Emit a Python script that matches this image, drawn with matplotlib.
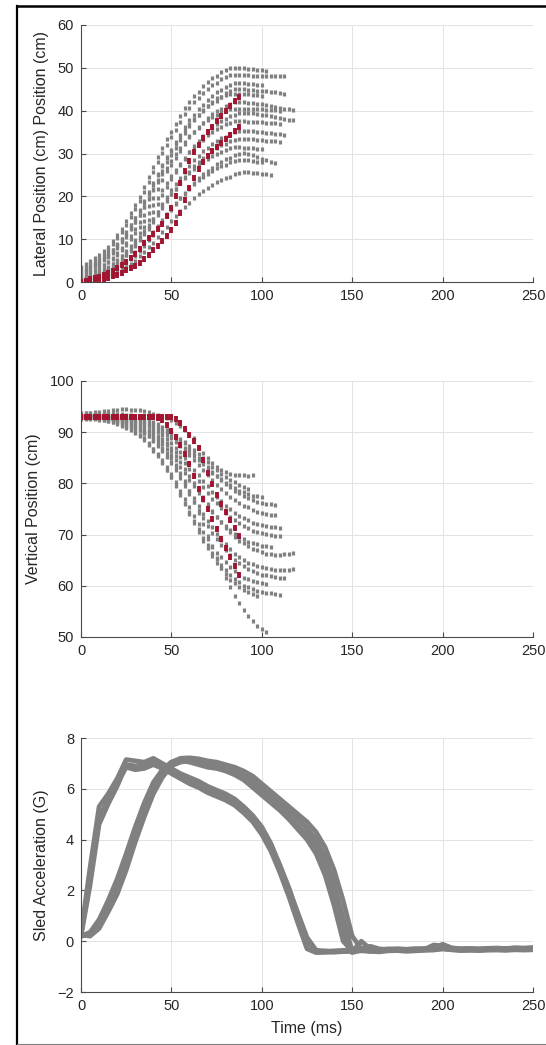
import matplotlib
matplotlib.use("Agg")
import matplotlib.pyplot as plt
from matplotlib.lines import Line2D

plt.rcParams['font.family'] = ['Liberation Sans', 'DejaVu Sans']

# sample times (ms) of the tracked points
t_dots = [0, 2.5, 5, 7.5, 10, 12.5, 15, 17.5, 20, 22.5, 25, 27.5, 30, 32.5, 35, 37.5,
          40, 42.5, 45, 47.5, 50, 52.5, 55, 57.5, 60, 62.5, 65, 67.5, 70, 72.5, 75, 77.5,
          80, 82.5, 85, 87.5, 90, 92.5, 95, 97.5, 100, 102.5, 105, 107.5, 110, 112.5, 115, 117.5]

# lateral position (cm), grey trials
lat_gray = [
    [3.5, 4.2, 4.9, 5.6, 6.3, 7.2, 8.2, 9.5, 10.9, 12.3, 14.2, 16.1, 17.9, 19.8, 22.1, 24.4,
     26.8, 29.1, 31.4, 33.3, 35.1, 37.0, 38.8, 40.7, 42.1, 43.5, 44.4, 45.8, 46.7, 47.7, 48.1,
     49.1, 49.5, 50.0, 50.0, 50.0, 49.9, 49.8, 49.7, 49.6, 49.4, 49.2],
    [3.0, 3.7, 4.4, 5.0, 5.7, 6.6, 7.5, 8.9, 10.3, 11.6, 13.4, 15.2, 17.0, 18.9, 21.1, 23.4,
     25.7, 27.9, 30.2, 32.0, 33.8, 35.6, 37.4, 39.2, 40.6, 42.0, 42.9, 44.2, 45.1, 46.0, 46.5,
     47.4, 47.8, 48.3, 48.3, 48.3, 48.3, 48.3, 48.2, 48.2, 48.2, 48.1, 48.1, 48.0, 48.0, 48.0],
    [3.2, 3.3, 3.9, 4.5, 5.2, 5.8, 6.7, 7.5, 8.8, 10.1, 11.4, 13.2, 14.9, 16.6, 18.4, 20.5,
     22.7, 24.9, 27.0, 29.2, 30.9, 32.6, 34.4, 36.1, 37.8, 39.1, 40.4, 41.3, 42.6, 43.5, 44.3,
     44.8, 45.6, 46.1, 46.5, 46.5, 46.4, 46.3, 46.2, 46.1, 46.0],
    [2.5, 2.6, 3.1, 3.8, 4.4, 5.1, 5.9, 6.8, 8.0, 9.3, 10.6, 12.3, 14.0, 15.7, 17.4, 19.5,
     21.6, 23.8, 25.9, 28.0, 29.7, 31.4, 33.1, 34.8, 36.5, 37.8, 39.1, 39.9, 41.2, 42.0, 42.9,
     43.3, 44.2, 44.6, 45.0, 45.0, 45.0, 44.9, 44.8, 44.7, 44.6, 44.5, 44.4, 44.3, 44.1, 44.0],
    [2.0, 2.6, 3.3, 3.9, 4.5, 5.4, 6.2, 7.5, 8.7, 10.0, 11.7, 13.3, 15.0, 16.7, 18.8, 20.9,
     23.0, 25.1, 27.2, 28.9, 30.6, 32.2, 33.9, 35.6, 36.9, 38.1, 39.0, 40.2, 41.1, 41.9, 42.3,
     43.2, 43.6, 44.0, 44.0, 44.0, 43.9, 43.8, 43.7, 43.6, 43.5],
    [1.5, 1.6, 2.1, 2.7, 3.3, 3.9, 4.7, 5.6, 6.8, 8.0, 9.2, 10.8, 12.4, 14.1, 15.7, 17.7,
     19.7, 21.8, 23.8, 25.8, 27.4, 29.0, 30.7, 32.3, 33.9, 35.1, 36.3, 37.1, 38.4, 39.2, 40.0,
     40.4, 41.2, 41.6, 42.0, 42.0, 42.0, 41.9, 41.8, 41.6, 41.5, 41.3, 41.1, 40.9, 40.7, 40.5,
     40.3, 40.2],
    [2.2, 2.8, 3.4, 3.9, 4.5, 5.3, 6.0, 7.2, 8.3, 9.5, 11.0, 12.5, 14.1, 15.6, 17.5, 19.4,
     21.4, 23.3, 25.2, 26.7, 28.2, 29.8, 31.3, 32.8, 34.0, 35.1, 35.9, 37.1, 37.8, 38.6, 39.0,
     39.7, 40.1, 40.5, 40.5, 40.5, 40.5, 40.4, 40.4, 40.3, 40.3, 40.2, 40.1, 40.1, 40.0],
    [1.0, 1.0, 1.1, 1.6, 2.2, 2.7, 3.3, 4.1, 4.9, 6.0, 7.2, 8.3, 9.9, 11.4, 12.9, 14.5,
     16.4, 18.3, 20.3, 22.2, 24.1, 25.6, 27.2, 28.7, 30.3, 31.8, 33.0, 34.1, 34.9, 36.0, 36.8,
     37.6, 38.0, 38.7, 39.1, 39.5, 39.5, 39.5, 39.4, 39.3, 39.1, 38.9, 38.7, 38.5, 38.3, 38.1,
     37.9, 37.8],
    [1.8, 1.9, 2.3, 2.9, 3.4, 3.9, 4.7, 5.4, 6.4, 7.5, 8.6, 10.0, 11.4, 12.9, 14.3, 16.1,
     17.9, 19.7, 21.4, 23.2, 24.7, 26.1, 27.5, 28.9, 30.4, 31.4, 32.5, 33.2, 34.3, 35.0, 35.7,
     36.1, 36.8, 37.1, 37.5, 37.5, 37.5, 37.4, 37.4, 37.3, 37.3, 37.2, 37.1, 37.1, 37.0],
    [0.8, 0.8, 0.9, 1.3, 1.8, 2.4, 2.9, 3.6, 4.3, 5.3, 6.3, 7.4, 8.7, 10.1, 11.5, 12.9,
     14.6, 16.3, 18.1, 19.8, 21.5, 22.9, 24.3, 25.6, 27.0, 28.4, 29.4, 30.5, 31.2, 32.2, 32.9,
     33.6, 33.9, 34.6, 35.0, 35.3, 35.3, 35.3, 35.2, 35.1, 35.0, 34.9, 34.8, 34.6, 34.5, 34.3],
    [1.0, 1.0, 1.1, 1.5, 2.0, 2.5, 3.0, 3.6, 4.3, 5.2, 6.2, 7.2, 8.5, 9.8, 11.1, 12.4,
     14.0, 15.6, 17.3, 18.9, 20.5, 21.8, 23.1, 24.4, 25.7, 27.0, 28.0, 29.0, 29.6, 30.6, 31.2,
     31.9, 32.2, 32.9, 33.2, 33.5, 33.5, 33.4, 33.3, 33.2, 33.1, 33.0, 32.9, 32.9, 32.8],
    [1.2, 1.3, 1.7, 2.1, 2.6, 3.0, 3.6, 4.2, 5.1, 6.1, 7.0, 8.2, 9.4, 10.6, 11.8, 13.3,
     14.8, 16.4, 17.9, 19.4, 20.6, 21.8, 23.0, 24.2, 25.4, 26.4, 27.3, 27.9, 28.8, 29.4, 30.0,
     30.3, 30.9, 31.2, 31.5, 31.5, 31.4, 31.3, 31.2, 31.1, 31.0],
    [0.5, 0.5, 0.6, 0.7, 0.95, 1.4, 1.8, 2.3, 2.9, 3.5, 4.4, 5.3, 6.1, 7.3, 8.5, 9.7,
     10.9, 12.4, 13.9, 15.4, 16.8, 18.3, 19.5, 20.7, 21.9, 23.1, 24.3, 25.2, 26.0, 26.6, 27.5,
     28.1, 28.7, 29.0, 29.6, 29.9, 30.2, 30.0, 29.6, 29.2, 28.8, 28.4, 28.0, 27.7],
    [0.4, 0.4, 0.5, 0.8, 1.2, 1.7, 2.1, 2.6, 3.2, 4.1, 4.9, 5.7, 6.9, 8.0, 9.1, 10.2,
     11.6, 13.0, 14.5, 15.9, 17.3, 18.4, 19.5, 20.6, 21.8, 22.9, 23.7, 24.6, 25.1, 26.0, 26.5,
     27.1, 27.4, 27.9, 28.2, 28.5, 28.5, 28.4, 28.3, 28.1, 28.0],
    [0.2, 0.2, 0.3, 0.3, 0.6, 1.0, 1.3, 1.7, 2.2, 2.7, 3.5, 4.3, 5.0, 6.0, 7.1, 8.1,
     9.1, 10.4, 11.6, 12.9, 14.2, 15.4, 16.5, 17.5, 18.5, 19.5, 20.5, 21.3, 22.0, 22.6, 23.3,
     23.8, 24.3, 24.6, 25.1, 25.4, 25.6, 25.6, 25.5, 25.4, 25.2, 25.1, 24.9],
]

# lateral position (cm), highlighted trials
lat_red = [
    [0.0, 0.3, 0.6, 0.9, 1.2, 1.6, 2.1, 2.6, 3.2, 3.9, 4.7, 5.6, 6.6, 7.8, 9.0, 10.2, 11.3,
     12.4, 13.6, 15.3, 17.3, 20.0, 23.2, 26.0, 28.3, 30.3, 32.0, 33.6, 35.0, 36.3, 37.6, 38.8,
     40.0, 41.1, 42.2, 43.2],
    [0.0, 0.1, 0.2, 0.3, 0.4, 0.6, 0.9, 1.3, 1.7, 2.2, 2.7, 3.2, 3.8, 4.5, 5.3, 6.3, 7.4,
     8.5, 9.6, 10.8, 12.1, 13.8, 16.0, 19.2, 22.0, 24.3, 26.4, 28.0, 29.4, 30.6, 31.6, 32.5,
     33.4, 34.3, 35.2, 36.1],
]

# vertical position (cm), grey trials
vert_gray = [
    [93.6, 93.7, 93.8, 93.9, 94.0, 94.1, 94.2, 94.3, 94.4, 94.5, 94.5, 94.4, 94.4, 94.3, 94.1,
     93.9, 93.6, 93.3, 93.0, 92.7, 92.3, 91.8, 91.2, 90.5, 89.7, 88.8, 87.2, 86.0, 85.0, 84.0,
     83.3, 82.7, 82.2, 81.9, 81.7, 81.6, 81.6, 81.5, 81.6],
    [93.3, 93.3, 93.3, 93.3, 93.3, 93.3, 93.3, 93.2, 93.1, 93.1, 93.0, 92.8, 92.7, 92.5, 92.3,
     92.0, 91.7, 91.4, 90.9, 90.5, 90.0, 89.3, 88.7, 88.1, 87.3, 86.5, 85.7, 84.9, 84.1, 83.3,
     82.6, 81.9, 81.3, 80.7, 80.2, 79.7, 79.2, 78.9],
    [93.3, 93.3, 93.3, 93.3, 93.3, 93.3, 93.2, 93.1, 93.1, 93.0, 92.8, 92.6, 92.5, 92.2, 92.0,
     91.7, 91.3, 90.8, 90.3, 89.8, 89.2, 88.5, 87.9, 87.0, 86.2, 85.4, 84.6, 83.7, 82.9, 82.1,
     81.4, 80.8, 80.1, 79.6, 79.1, 78.6, 78.3, 78.0, 77.6, 77.5, 77.3],
    [93.8, 93.8, 93.8, 93.8, 93.8, 93.8, 93.8, 93.7, 93.6, 93.5, 93.4, 93.3, 93.1, 92.9, 92.6,
     92.3, 92.0, 91.6, 91.1, 90.5, 90.0, 89.2, 88.5, 87.8, 86.8, 85.9, 85.0, 84.1, 83.2, 82.3,
     81.4, 80.6, 79.9, 79.2, 78.6, 78.1, 77.5, 77.1, 76.8, 76.4, 76.2, 76.0, 75.9, 75.8],
    [93.0, 93.0, 93.0, 93.0, 93.0, 93.0, 93.0, 92.9, 92.8, 92.7, 92.6, 92.4, 92.2, 92.0, 91.7,
     91.4, 91.1, 90.7, 90.1, 89.5, 88.9, 88.1, 87.3, 86.6, 85.6, 84.6, 83.6, 82.7, 81.7, 80.7,
     79.7, 79.0, 78.2, 77.4, 76.8, 76.2, 75.6, 75.3, 74.9, 74.5, 74.3, 74.1, 73.9, 73.8],
    [93.4, 93.4, 93.4, 93.4, 93.4, 93.4, 93.3, 93.2, 93.1, 93.0, 92.7, 92.5, 92.3, 92.0, 91.6,
     91.2, 90.7, 90.1, 89.4, 88.7, 87.9, 87.0, 86.1, 85.0, 83.9, 82.7, 81.6, 80.5, 79.4, 78.3,
     77.4, 76.5, 75.6, 75.0, 74.3, 73.6, 73.2, 72.8, 72.3, 72.1, 71.9, 71.6, 71.5, 71.4, 71.3],
    [92.8, 92.8, 92.8, 92.8, 92.8, 92.8, 92.7, 92.6, 92.5, 92.3, 92.1, 91.9, 91.6, 91.3, 90.9,
     90.5, 90.0, 89.3, 88.6, 87.9, 87.0, 86.1, 85.1, 84.0, 82.8, 81.7, 80.5, 79.3, 78.2, 77.0,
     76.1, 75.2, 74.2, 73.5, 72.8, 72.2, 71.7, 71.2, 70.8, 70.5, 70.3, 70.1, 69.9, 69.8, 69.7],
    [93.1, 93.1, 93.1, 93.1, 93.1, 93.0, 92.8, 92.7, 92.6, 92.3, 92.1, 91.8, 91.4, 91.0, 90.5,
     90.0, 89.2, 88.5, 87.7, 86.7, 85.6, 84.6, 83.3, 82.0, 80.7, 79.4, 78.1, 76.8, 75.6, 74.5,
     73.5, 72.5, 71.7, 70.9, 70.1, 69.6, 69.1, 68.6, 68.3, 68.1, 67.8, 67.7, 67.6],
    [93.2, 93.2, 93.2, 93.2, 93.2, 93.2, 93.1, 92.9, 92.8, 92.7, 92.4, 92.1, 91.8, 91.4, 91.0,
     90.5, 89.9, 89.1, 88.3, 87.5, 86.4, 85.3, 84.2, 82.8, 81.4, 80.0, 78.7, 77.3, 75.9, 74.6,
     73.5, 72.4, 71.3, 70.5, 69.6, 68.8, 68.3, 67.7, 67.2, 66.9, 66.6, 66.3, 66.2, 66.1, 66.1,
     66.2, 66.3, 66.5],
    [92.9, 92.9, 92.9, 92.9, 92.9, 92.8, 92.6, 92.5, 92.3, 92.0, 91.7, 91.4, 91.0, 90.5, 89.9,
     89.3, 88.4, 87.5, 86.6, 85.4, 84.2, 83.0, 81.5, 80.0, 78.5, 77.1, 75.6, 74.1, 72.6, 71.4,
     70.2, 69.0, 68.1, 67.2, 66.3, 65.7, 65.1, 64.5, 64.2, 63.9, 63.6, 63.4, 63.3, 63.1, 63.0,
     63.0, 63.1, 63.2],
    [93.0, 93.0, 93.0, 93.0, 93.0, 92.8, 92.7, 92.5, 92.4, 92.1, 91.7, 91.4, 91.0, 90.5, 89.9,
     89.2, 88.3, 87.4, 86.4, 85.2, 83.9, 82.6, 81.1, 79.5, 77.9, 76.4, 74.8, 73.2, 71.6, 70.4,
     69.1, 67.9, 66.9, 66.0, 65.1, 64.4, 63.8, 63.2, 62.9, 62.5, 62.2, 62.1, 61.9, 61.8, 61.6,
     61.6],
    [92.7, 92.7, 92.7, 92.7, 92.5, 92.4, 92.2, 92.0, 91.7, 91.4, 91.1, 90.6, 90.1, 89.4, 88.8,
     87.8, 86.8, 85.8, 84.5, 83.2, 81.9, 80.3, 78.6, 77.0, 75.4, 73.7, 72.1, 70.5, 69.2, 67.8,
     66.5, 65.6, 64.6, 63.6, 62.9, 62.3, 61.6, 61.3, 61.0, 60.7, 60.5, 60.3],
    [92.6, 92.6, 92.6, 92.6, 92.4, 92.3, 92.1, 91.9, 91.6, 91.2, 90.9, 90.4, 89.9, 89.2, 88.5,
     87.5, 86.4, 85.4, 84.0, 82.7, 81.3, 79.6, 77.9, 76.1, 74.4, 72.7, 71.0, 69.3, 67.9, 66.5,
     65.2, 64.1, 63.1, 62.1, 61.4, 60.7, 60.0, 59.7, 59.3, 59.0, 58.8, 58.6, 58.5, 58.4, 58.3],
    [93.1, 93.1, 93.1, 93.1, 92.9, 92.7, 92.6, 92.4, 92.0, 91.7, 91.3, 90.8, 90.2, 89.5, 88.8,
     87.7, 86.7, 85.6, 84.2, 82.7, 81.3, 79.5, 77.7, 75.9, 74.1, 72.3, 70.5, 68.8, 67.3, 65.9,
     64.5, 63.4, 62.3, 61.2, 60.5, 59.8, 59.1, 58.7, 58.4, 58.0],
    [92.9, 92.9, 92.8, 92.8, 92.7, 92.6, 92.5, 92.3, 92.1, 91.9, 91.6, 91.3, 90.9, 90.5, 90.0,
     89.4, 88.7, 87.9, 87.0, 86.0, 84.9, 83.6, 82.1, 80.4, 78.5, 76.4, 74.2, 72.0, 69.8, 67.6,
     65.5, 63.5, 61.6, 59.8, 58.1, 56.6, 55.3, 54.1, 53.1, 52.2, 51.5, 51.0],
]

# vertical position (cm), highlighted trials
vert_red = [
    [93.0, 93.0, 93.0, 93.0, 93.0, 93.0, 93.0, 93.0, 93.0, 93.0, 93.0, 93.0, 93.0, 93.0, 93.0,
     93.0, 93.0, 93.0, 93.0, 93.0, 92.9, 92.5, 91.7, 90.6, 89.5, 88.3, 87.0, 84.5, 82.0, 79.8,
     77.8, 76.0, 74.4, 72.8, 71.3, 69.8],
    [93.0, 93.0, 93.0, 93.0, 93.0, 93.0, 93.0, 93.0, 93.0, 93.0, 93.0, 93.0, 93.0, 93.0, 93.0,
     93.0, 93.0, 92.8, 92.3, 91.4, 90.3, 89.0, 87.5, 85.7, 83.8, 81.5, 79.0, 77.0, 75.0, 73.0,
     71.0, 69.2, 67.4, 65.6, 63.9, 62.2],
]

# sled acceleration (G)
t_acc = [0, 5, 10, 15, 20, 25, 30, 35, 40, 45, 50, 55, 60, 65, 70, 75, 80, 85, 90, 95, 100,
         105, 110, 115, 120, 125, 130, 135, 140, 145, 150, 155, 160, 165, 170, 175, 180, 185,
         190, 195, 200, 205, 210, 215, 220, 225, 230, 235, 240, 245, 250]
acc_runs = [
    [0.3, 2.9, 5.3, 5.8, 6.4, 7.15, 7.1, 7.05, 7.2, 7.0, 6.8, 6.6, 6.45, 6.3, 6.1, 5.95, 5.8,
     5.6, 5.3, 4.95, 4.5, 3.85, 3.0, 2.1, 1.05, 0.0, -0.4, -0.38, -0.42, -0.4, -0.37, -0.33,
     -0.36, -0.35, -0.33, -0.32, -0.34, -0.33, -0.31, -0.3, -0.27, -0.3, -0.32, -0.31, -0.33,
     -0.32, -0.3, -0.31, -0.29, -0.3, -0.29],
    [0.25, 2.5, 4.9, 5.55, 6.2, 6.85, 6.75, 6.8, 6.95, 6.8, 6.6, 6.4, 6.2, 6.05, 5.85, 5.7,
     5.55, 5.35, 5.05, 4.7, 4.2, 3.55, 2.7, 1.75, 0.7, -0.3, -0.45, -0.44, -0.43, -0.41, -0.4,
     -0.38, -0.4, -0.37, -0.36, -0.35, -0.37, -0.35, -0.34, -0.33, -0.3, -0.33, -0.35, -0.34,
     -0.35, -0.34, -0.33, -0.34, -0.32, -0.33, -0.32],
    [0.2, 2.2, 4.6, 5.4, 6.1, 6.95, 6.9, 6.95, 7.1, 6.9, 6.7, 6.5, 6.35, 6.2, 6.0, 5.85, 5.7,
     5.5, 5.2, 4.85, 4.4, 3.75, 2.95, 2.05, 1.1, 0.15, -0.35, -0.4, -0.38, -0.36, -0.35, -0.3,
     -0.33, -0.34, -0.3, -0.31, -0.32, -0.3, -0.29, -0.27, -0.24, -0.28, -0.3, -0.29, -0.31,
     -0.3, -0.28, -0.29, -0.27, -0.28, -0.27],
    [0.2, 0.3, 0.75, 1.5, 2.3, 3.3, 4.4, 5.35, 6.15, 6.7, 7.05, 7.2, 7.22, 7.18, 7.1, 7.05,
     6.95, 6.85, 6.7, 6.5, 6.2, 5.9, 5.6, 5.3, 5.0, 4.7, 4.3, 3.7, 2.8, 1.6, 0.2, -0.3, -0.2,
     -0.3, -0.33, -0.3, -0.32, -0.3, -0.31, -0.28, -0.12, -0.26, -0.3, -0.29, -0.3, -0.28,
     -0.27, -0.29, -0.26, -0.27, -0.25],
    [0.2, 0.25, 0.6, 1.3, 2.05, 3.05, 4.15, 5.15, 6.0, 6.6, 7.0, 7.15, 7.15, 7.1, 7.0, 6.95,
     6.85, 6.75, 6.55, 6.3, 6.0, 5.7, 5.4, 5.1, 4.8, 4.45, 4.0, 3.3, 2.25, 0.9, -0.4, 0.0,
     -0.3, -0.38, -0.35, -0.33, -0.35, -0.33, -0.32, -0.15, -0.18, -0.3, -0.33, -0.32, -0.33,
     -0.31, -0.3, -0.32, -0.3, -0.31, -0.3],
    [0.25, 0.2, 0.5, 1.15, 1.85, 2.8, 3.9, 4.9, 5.8, 6.45, 6.9, 7.05, 7.1, 7.0, 6.9, 6.85,
     6.75, 6.6, 6.4, 6.1, 5.8, 5.5, 5.2, 4.9, 4.55, 4.2, 3.7, 2.9, 1.8, 0.4, -0.45, -0.35,
     -0.4, -0.42, -0.38, -0.37, -0.4, -0.38, -0.36, -0.35, -0.3, -0.34, -0.37, -0.36, -0.37,
     -0.35, -0.35, -0.36, -0.34, -0.35, -0.34],
    [0.2, 0.35, 0.85, 1.6, 2.45, 3.45, 4.5, 5.45, 6.25, 6.75, 7.05, 7.1, 7.05, 6.95, 6.85,
     6.8, 6.7, 6.55, 6.35, 6.05, 5.75, 5.45, 5.15, 4.8, 4.4, 4.0, 3.45, 2.6, 1.4, 0.0, -0.4,
     -0.3, -0.35, -0.38, -0.36, -0.34, -0.36, -0.35, -0.33, -0.31, -0.28, -0.31, -0.34, -0.33,
     -0.34, -0.33, -0.32, -0.33, -0.31, -0.32, -0.31],
]

GRAY = '#808080'
RED = '#a2142f'
W, H = 546, 1045

fig = plt.figure(figsize=(W / 100, H / 100), dpi=100)
fig.patch.set_facecolor('white')


def style_axes(ax, ylim, yticks, ylabel):
    ax.set_xlim(0, 250)
    ax.set_ylim(*ylim)
    ax.set_xticks([0, 50, 100, 150, 200, 250])
    ax.set_yticks(yticks)
    ax.grid(True, color='#e3e3e3', linewidth=0.7)
    ax.set_axisbelow(True)
    for side in ['top', 'right']:
        ax.spines[side].set_visible(False)
    for side in ['left', 'bottom']:
        ax.spines[side].set_color('#4a4a4a')
        ax.spines[side].set_linewidth(0.8)
    ax.tick_params(direction='in', length=3.5, width=0.8, colors='#4a4a4a',
                   labelcolor='#262626', labelsize=10.5, pad=5)
    ax.set_ylabel(ylabel, fontsize=11.5, color='#262626', labelpad=6)


def axes_px(top, bottom):
    return fig.add_axes([81 / W, 1 - bottom / H, 452 / W, (bottom - top) / H])


def dot_panel(ax, gray_runs, red_runs):
    for run in gray_runs:
        ax.plot(t_dots[:len(run)], run, linestyle='none', marker='|', ms=3.4,
                mew=2.3, color=GRAY)
    for run in red_runs:
        ax.plot(t_dots[:len(run)], run, linestyle='none', marker='|', ms=5,
                mew=2.8, color=RED)


ax1 = axes_px(25, 282)
dot_panel(ax1, lat_gray, lat_red)
style_axes(ax1, (0, 60), [0, 10, 20, 30, 40, 50, 60], 'Lateral Position (cm) Position (cm)')

ax2 = axes_px(381, 637)
dot_panel(ax2, vert_gray, vert_red)
style_axes(ax2, (50, 100), [50, 60, 70, 80, 90, 100], 'Vertical Position (cm)')

ax3 = axes_px(738, 992)
for run in acc_runs:
    ax3.plot(t_acc, run, color=GRAY, linewidth=3.4, solid_capstyle='round',
             solid_joinstyle='round')
style_axes(ax3, (-2, 8), [-2, 0, 2, 4, 6, 8], 'Sled Acceleration (G)')
ax3.set_xlabel('Time (ms)', fontsize=11.5, color='#262626', labelpad=6)

# black frame round the figure (left, top, bottom edges)
fig.add_artist(Line2D([17 / W, 17 / W], [1 - 1044 / H, 1 - 6 / H], color='black',
                      linewidth=1.6, transform=fig.transFigure))
fig.add_artist(Line2D([17 / W, 1.0], [1 - 6 / H, 1 - 6 / H], color='black',
                      linewidth=1.8, transform=fig.transFigure))
fig.add_artist(Line2D([17 / W, 1.0], [1 - 1044 / H, 1 - 1044 / H], color='#808080',
                      linewidth=0.8, transform=fig.transFigure))

fig.savefig('out.png', dpi=100, facecolor='white')
